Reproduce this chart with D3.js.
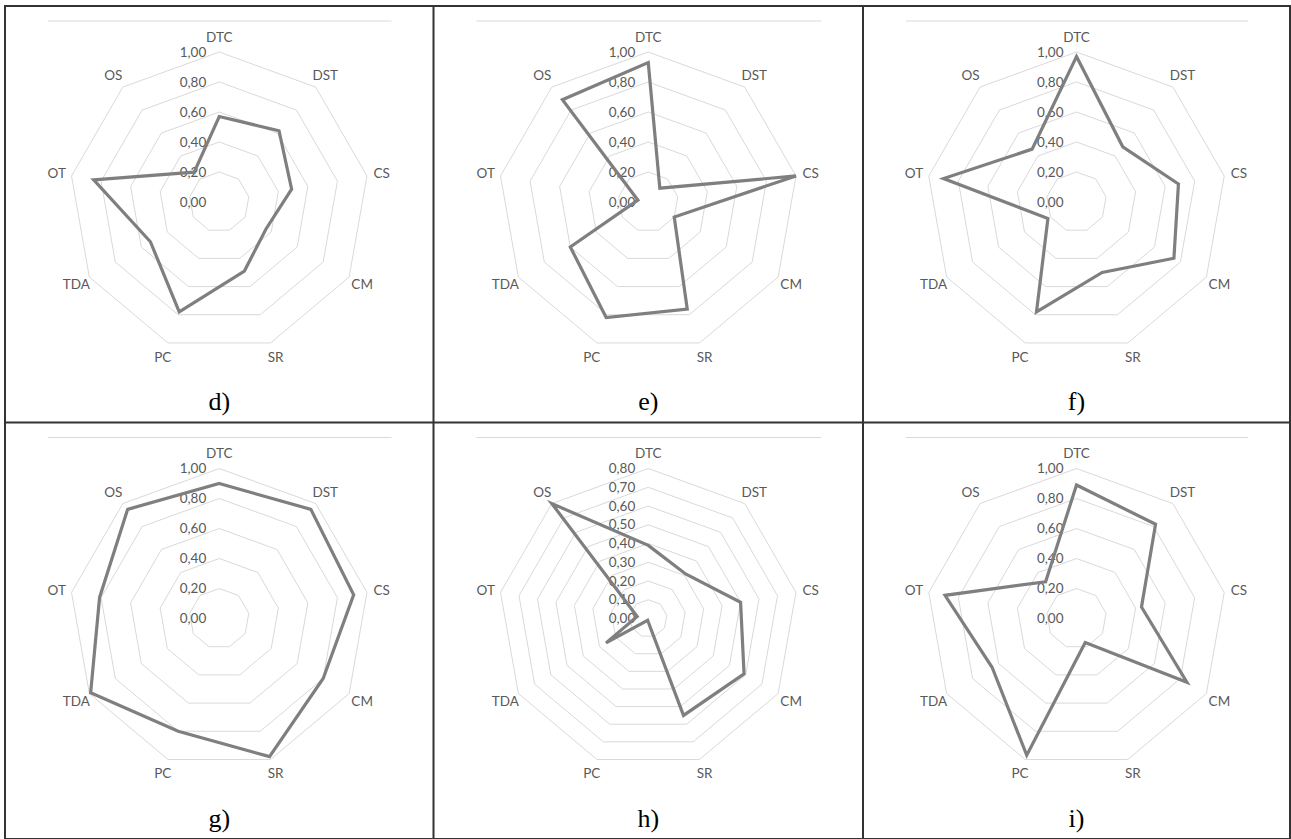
<!DOCTYPE html>
<html lang="en">
<head>
    <meta charset="UTF-8">
    <script src="https://d3js.org/d3.v7.min.js"></script>
    <style>
        body { margin: 0; background: white; }
        .axis-label, .tick-label {
            font-family: Lato, "Open Sans", sans-serif;
            font-size: 13.5px;
            fill: #595959;
        }
        .caption {
            font-family: "Liberation Serif", "Times New Roman", serif;
            font-size: 26px;
            fill: #000;
        }
    </style>
</head>
<body>
    <svg id="chart" width="1291" height="839"></svg>

    <script>
        // Axes of every radar, clockwise from the top
        const axes = ["DTC", "DST", "CS", "CM", "SR", "PC", "TDA", "OT", "OS"];
        const captions = ["d)", "e)", "f)", "g)", "h)", "i)"];

        // Values
        const valuesD = [0.57, 0.62, 0.49, 0.36, 0.49, 0.78, 0.53, 0.85, 0.26];
        const valuesE = [0.93, 0.12, 1.00, 0.20, 0.76, 0.82, 0.60, 0.07, 0.89];
        const valuesF = [0.97, 0.48, 0.69, 0.75, 0.50, 0.78, 0.22, 0.90, 0.46];
        const valuesG = [0.90, 0.95, 0.91, 0.80, 0.98, 0.80, 0.99, 0.81, 0.95];
        const valuesH = [0.39, 0.31, 0.50, 0.59, 0.55, 0.01, 0.26, 0.06, 0.80];
        const valuesI = [0.89, 0.82, 0.44, 0.85, 0.17, 0.97, 0.65, 0.89, 0.32];
        const allValues = [valuesD, valuesE, valuesF, valuesG, valuesH, valuesI];

        // Radial axis ticks per panel
        const ticksStd = [0, 0.2, 0.4, 0.6, 0.8, 1.0];
        const ticksH = [0, 0.1, 0.2, 0.3, 0.4, 0.5, 0.6, 0.7, 0.8];
        const allTicks = [ticksStd, ticksStd, ticksStd, ticksStd, ticksH, ticksStd];

        const svg = d3.select("#chart");
        const fmt = d3.formatLocale({ decimal: ",", thousands: ".", grouping: [3], currency: ["", ""] }).format(".2f");

        // Grid layout of the table
        const colEdges = [5, 433.5, 863, 1290];
        const rowEdges = [6, 422.5, 839];
        const R = 150;
        const angleStep = 2 * Math.PI / axes.length;

        allValues.forEach((vals, i) => {
            const col = i % 3, row = Math.floor(i / 3);
            const left = colEdges[col], right = colEdges[col + 1];
            const top = rowEdges[row];
            const cx = (left + right) / 2;
            const cy = top + 196;
            const ticks = allTicks[i];

            const r = d3.scaleLinear().domain([0, d3.max(ticks)]).range([0, R]);
            const g = svg.append("g").attr("transform", `translate(${cx},${cy})`);

            // thin line at the top of the chart area
            svg.append("line")
                .attr("x1", left + 43).attr("x2", right - 42)
                .attr("y1", top + 15).attr("y2", top + 15)
                .attr("stroke", "#d9d9d9").attr("stroke-width", 1);

            const ring = d3.lineRadial()
                .angle((d, k) => k * angleStep)
                .radius(d => r(d))
                .curve(d3.curveLinearClosed);

            // grid rings
            g.selectAll(".ring")
                .data(ticks.filter(t => t > 0))
                .enter().append("path")
                .attr("d", t => ring(axes.map(() => t)))
                .attr("fill", "none")
                .attr("stroke", "#d9d9d9")
                .attr("stroke-width", 1);

            // tick labels along the top axis
            g.selectAll(".tick-label")
                .data(ticks)
                .enter().append("text")
                .attr("class", "tick-label")
                .attr("x", -13)
                .attr("y", t => -r(t))
                .attr("dy", "0.35em")
                .attr("text-anchor", "end")
                .text(t => fmt(t));

            // category labels
            g.selectAll(".axis-label")
                .data(axes)
                .enter().append("text")
                .attr("class", "axis-label")
                .attr("x", (d, k) => (R + 15) * Math.sin(k * angleStep))
                .attr("y", (d, k) => -(R + 15) * Math.cos(k * angleStep))
                .attr("dy", "0.35em")
                .attr("text-anchor", "middle")
                .text(d => d);

            // series
            g.append("path")
                .attr("d", ring(vals))
                .attr("fill", "none")
                .attr("stroke", "#7f7f7f")
                .attr("stroke-width", 3.2)
                .attr("stroke-linejoin", "miter");

            svg.append("text")
                .attr("class", "caption")
                .attr("x", cx)
                .attr("y", top + 404)
                .attr("text-anchor", "middle")
                .text(captions[i]);
        });

        // table borders
        colEdges.forEach(x => {
            svg.append("line").attr("x1", x).attr("x2", x).attr("y1", rowEdges[0]).attr("y2", 839)
                .attr("stroke", "#333").attr("stroke-width", 2);
        });
        rowEdges.forEach(y => {
            svg.append("line").attr("x1", colEdges[0] - 1).attr("x2", colEdges[3] + 1).attr("y1", y).attr("y2", y)
                .attr("stroke", "#333").attr("stroke-width", 2);
        });
    </script>
</body>
</html>
